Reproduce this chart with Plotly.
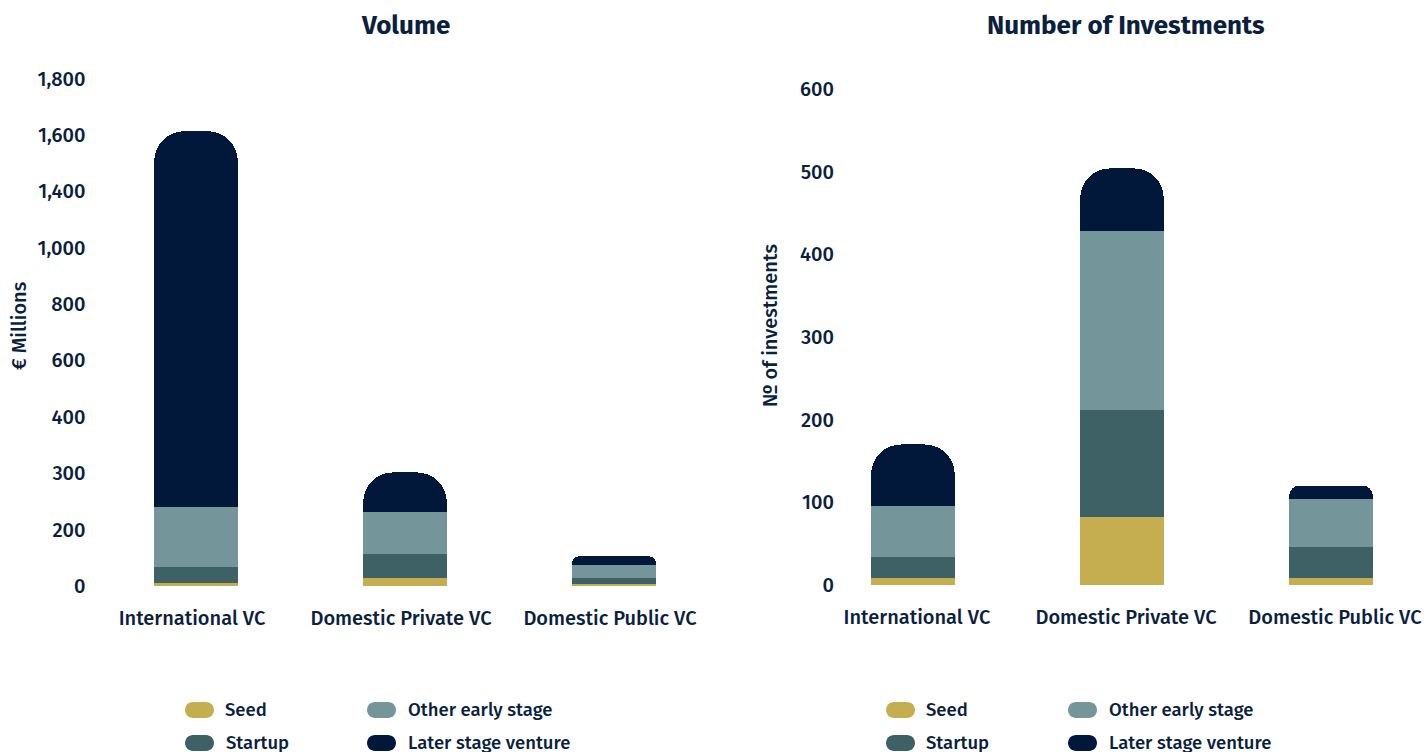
import plotly.graph_objects as go

# ---------------- data ----------------
categories = ["International VC", "Domestic Private VC", "Domestic Public VC"]
series_names = ["Seed", "Startup", "Other early stage", "Later stage venture"]
series_colors = ["#c4ae4f", "#3e6166", "#74959a", "#02183a"]

volume_seed = [12, 28, 8]
volume_startup = [57, 86, 21]
volume_other = [212, 147, 47]
volume_later = [1332, 142, 29]

count_seed = [9, 82, 9]
count_startup = [25, 130, 37]
count_other = [61, 216, 58]
count_later = [75, 76, 16]

volume_tickvals = [0, 200, 400, 600, 800, 1000, 1200, 1400, 1600, 1800]
volume_ticktext = ["0", "200", "300", "400", "600", "800", "1,000", "1,400", "1,600", "1,800"]
count_tickvals = [0, 100, 200, 300, 400, 500, 600]
count_ticktext = ["0", "100", "200", "300", "400", "500", "600"]

titles = ["Volume", "Number of Investments"]
y_titles = ["€ Millions", "№ of investments"]

# corner rounding (px) of the stacks – style only
big_radius = 30
small_radius_volume = 6
small_radius_count = 10

# ---------------- figure ----------------
TEXT = "#0c1f3f"
FONT = "Fira Sans, Roboto, Noto Sans, sans-serif"
W, H = 1424, 752

fig = go.Figure()

vol_series = [volume_seed, volume_startup, volume_other, volume_later]
cnt_series = [count_seed, count_startup, count_other, count_later]


def add_stack(series, idxs, radius, xa, ya):
    for name, color, vals in zip(series_names, series_colors, series):
        fig.add_trace(go.Bar(x=[categories[i] for i in idxs], y=[vals[i] for i in idxs],
                             name=name, marker_color=color, marker_line_width=0,
                             marker_cornerradius=radius, width=0.4, showlegend=False,
                             xaxis=xa, yaxis=ya,
                             hovertemplate=name + ": %{y}<extra>%{x}</extra>"))


# the two large stacks share rounding; the small stack sits on an overlaid,
# identically scaled axis pair so that its rounding can be smaller
add_stack(vol_series, [0, 1], big_radius, "x", "y")
add_stack(vol_series, [2], small_radius_volume, "x3", "y3")
add_stack(cnt_series, [0, 1], big_radius, "x2", "y2")
add_stack(cnt_series, [2], small_radius_count, "x4", "y4")

axis_font = dict(family=FONT, size=20, color=TEXT, weight=500)
common = dict(showgrid=False, showline=False, zeroline=False, ticks="",
              fixedrange=True, automargin=False)
xcat = dict(categoryorder="array", categoryarray=categories)

fig.update_layout(
    width=W, height=H,
    barmode="stack",
    paper_bgcolor="white", plot_bgcolor="white",
    margin=dict(l=0, r=0, t=0, b=0, autoexpand=False),
    font=dict(family=FONT, color=TEXT),
    xaxis=dict(domain=[91.5 / W, 718.5 / W], range=[-0.5, 2.5], tickfont=axis_font,
               ticklabelstandoff=18, ticklabelshift=-4, **xcat, **common),
    yaxis=dict(domain=[1 - 586 / H, 1 - 78.5 / H], range=[0, 1800],
               tickvals=volume_tickvals, ticktext=volume_ticktext, tickfont=axis_font,
               ticklabelstandoff=5, **common),
    xaxis3=dict(overlaying="x", range=[-0.5, 2.5], anchor="y3", visible=False,
                **xcat, **common),
    yaxis3=dict(overlaying="y", range=[0, 1800], anchor="x3", visible=False, **common),
    xaxis2=dict(domain=[840 / W, 1.0], range=[-0.349, 2.445], tickfont=axis_font,
                ticklabelstandoff=18, ticklabelshift=4, anchor="y2", **xcat, **common),
    yaxis2=dict(domain=[1 - 585 / H, 1 - 89 / H], range=[0, 600],
                tickvals=count_tickvals, ticktext=count_ticktext, tickfont=axis_font,
                ticklabelstandoff=5, anchor="x2", **common),
    xaxis4=dict(overlaying="x2", range=[-0.349, 2.445], anchor="y4", visible=False,
                **xcat, **common),
    yaxis4=dict(overlaying="y2", range=[0, 600], anchor="x4", visible=False, **common),
)

annotations = []
# chart titles
for t, cx in zip(titles, [405, 1126]):
    annotations.append(dict(text=t, x=cx / W, y=1 - 26 / H, xref="paper", yref="paper",
                            xanchor="center", yanchor="middle", showarrow=False,
                            font=dict(family=FONT, size=26, color=TEXT, weight="bold")))
# y-axis titles
for t, cx in zip(y_titles, [19, 770]):
    annotations.append(dict(text=t, x=cx / W, y=1 - 326 / H, xref="paper", yref="paper",
                            xanchor="center", yanchor="middle", showarrow=False,
                            textangle=-90,
                            font=dict(family=FONT, size=20, color=TEXT, weight=500)))

# manual legends (pill keys), 2 columns x 2 rows under each chart
shapes = []
k = 0.5523
rw, rh = 14.5, 8
r = 8
pill = (f"M {-rw + r},{-rh} L {rw - r},{-rh} "
        f"C {rw - r + r * k},{-rh} {rw},{-rh + r - r * k} {rw},{-rh + r} "
        f"C {rw},{rh - r + r * k} {rw - r + r * k},{rh} {rw - r},{rh} "
        f"L {-rw + r},{rh} "
        f"C {-rw + r - r * k},{rh} {-rw},{rh - r + r * k} {-rw},{rh - r} "
        f"C {-rw},{-rh + r - r * k} {-rw + r - r * k},{-rh} {-rw + r},{-rh} Z")
legend_order = [0, 2, 1, 3]  # Seed, Other early stage / Startup, Later stage venture
for col0 in [199.5, 900.5]:
    for slot, idx in enumerate(legend_order):
        col = slot % 2
        row = slot // 2
        px = col0 + col * 182
        py = 710 + row * 33
        shapes.append(dict(type="path", path=pill, xref="paper", yref="paper",
                           xsizemode="pixel", ysizemode="pixel",
                           xanchor=px / W, yanchor=1 - py / H,
                           fillcolor=series_colors[idx], line=dict(width=0)))
        annotations.append(dict(text=series_names[idx], x=(px + 24) / W, y=1 - py / H,
                                xref="paper", yref="paper", xanchor="left",
                                yanchor="middle", showarrow=False,
                                font=dict(family=FONT, size=18.5, color=TEXT, weight=500)))

fig.update_layout(annotations=annotations, shapes=shapes)

fig.write_html("out.html")
